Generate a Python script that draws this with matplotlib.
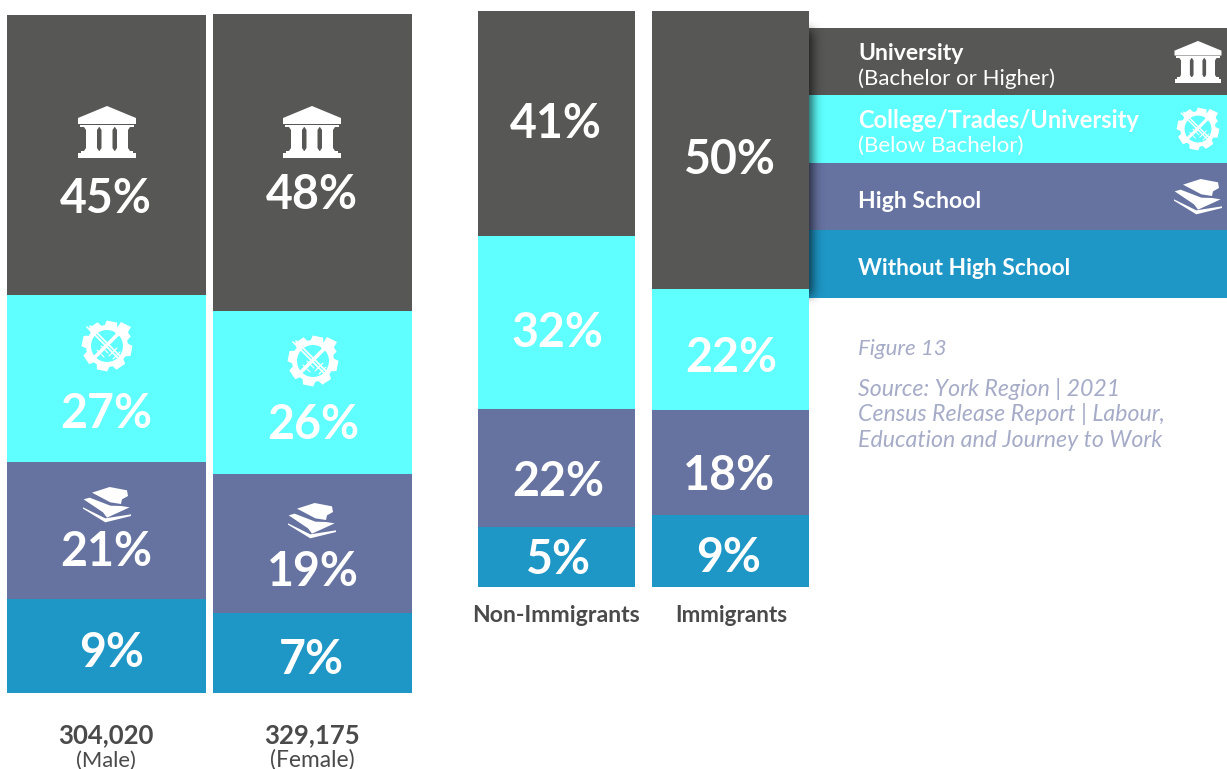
import math
import numpy as np
import matplotlib
matplotlib.use("Agg")
import matplotlib.pyplot as plt
from matplotlib.patches import Polygon, Rectangle, PathPatch
from matplotlib.path import Path

# ---- data ----
levels = ["Without High School", "High School", "College/Trades/University", "University"]
bar_names = ["Male", "Female", "Non-Immigrants", "Immigrants"]
male_labels = ["9%", "21%", "27%", "45%"]
female_labels = ["7%", "19%", "26%", "48%"]
non_immigrant_labels = ["5%", "22%", "32%", "41%"]
immigrant_labels = ["9%", "18%", "22%", "50%"]
# segment shares as drawn in the picture (the drawn bands are not strictly proportional to labels)
male_shares = [13.9, 20.2, 24.6, 41.3]
female_shares = [11.8, 20.5, 24.0, 43.7]
non_immigrant_shares = [10.4, 20.5, 30.0, 39.1]
immigrant_shares = [12.5, 18.2, 21.0, 48.3]
male_total = "304,020"
female_total = "329,175"

# ---- style ----
W, H = 1227, 769
DARK, CYAN, SLATE, BLUE = "#575756", "#5FFFFF", "#6673A1", "#1E97C6"
colors = [BLUE, SLATE, CYAN, DARK]
GREY = "#4A4A4A"
NOTE = "#A6ACC8"
FONT = "Lato"

fig = plt.figure(figsize=(W / 100, H / 100), dpi=100, facecolor="white")


def px_axes(x0, y0, x1, y1, z=1):
    return fig.add_axes([x0 / W, 1 - y1 / H, (x1 - x0) / W, (y1 - y0) / H], zorder=z)


def stacked(shares, box):
    ax = px_axes(*box)
    bottom = 0
    for v, c in zip(shares, colors):
        ax.bar(0, v, 1, bottom=bottom, color=c, linewidth=0)
        bottom += v
    ax.set_xlim(-0.5, 0.5)
    ax.set_ylim(0, 100)
    ax.axis("off")


stacked(male_shares, (7, 15, 206, 693))
stacked(female_shares, (213, 14, 412, 693))
stacked(non_immigrant_shares, (478, 11, 635, 587))
stacked(immigrant_shares, (652, 11, 809, 587))

# overlay in pixel coordinates for legend, text and icons
cv = fig.add_axes([0, 0, 1, 1], zorder=5)
cv.set_xlim(0, W)
cv.set_ylim(H, 0)
cv.axis("off")
cv.patch.set_alpha(0)

# legend bands
for (y0, y1), c in zip([(230, 298), (163, 230), (95, 163), (28, 95)], colors):
    cv.add_patch(Rectangle((809, y0), W - 809, y1 - y0, color=c, linewidth=0, zorder=1))

# soft shadow cast by the legend's left edge
xs = np.arange(809, 842) + 0.5
ys = np.arange(10, 318) + 0.5
erf = np.vectorize(math.erf)
ax_x = 0.5 * (1 - erf((xs - 812) / 8.0))
ax_y = 0.5 * (erf((ys - 30) / 7.0) - erf((ys - 296) / 7.0))
alpha = 0.72 * np.outer(ax_y, ax_x)
img = np.zeros((len(ys), len(xs), 4))
img[..., 3] = alpha
cv.imshow(img, extent=(809, 842, 318, 10), aspect="auto", zorder=2, interpolation="bilinear")
cv.set_xlim(0, W)
cv.set_ylim(H, 0)


# ---- icons (outlines in local pixels around a centre) ----
def add_poly(pts, cx, cy, s, **kw):
    pts = np.asarray(pts, float) * s + (cx, cy)
    cv.add_patch(Polygon(pts, closed=True, facecolor="white", edgecolor="none", zorder=4, **kw))


def temple(cx, cy, s=1.0):
    add_poly([(-29, -14), (0, -26), (29, -14), (29, -8), (-29, -8)], cx, cy, s)
    add_poly([(-27, -7), (27, -7), (27, -5), (-27, -5)], cx, cy, s)
    for c in (-15.5, 0, 15.5):
        add_poly([(c - 7.5, -5), (c + 7.5, -5), (c + 5.5, -2), (c + 5.5, 16), (c + 7.5, 19), (c - 7.5, 19),
                  (c - 5.5, 16), (c - 5.5, -2)], cx, cy, s)
    add_poly([(-26, 19), (26, 19), (26, 21), (29, 21), (29, 26), (-29, 26), (-29, 21), (-26, 21)], cx, cy, s)


def gear(cx, cy, s=1.0, teeth=8):
    pts = []
    for i in range(teeth):
        a = 2 * math.pi * i / teeth + 0.2
        step = 2 * math.pi / teeth
        for da, r in [(-0.36, 21), (-0.24, 25.5), (0.24, 25.5), (0.36, 21)]:
            aa = a + da * step * 1.1
            pts.append((r * math.cos(aa), r * math.sin(aa)))
    th = np.linspace(0, 2 * math.pi, 48)[::-1]
    hole = [(16 * math.cos(t), 16 * math.sin(t)) for t in th]
    verts = pts + [pts[0]] + hole + [hole[0]]
    codes = [Path.MOVETO] + [Path.LINETO] * (len(pts) - 1) + [Path.CLOSEPOLY] + \
            [Path.MOVETO] + [Path.LINETO] * (len(hole) - 1) + [Path.CLOSEPOLY]
    v = np.array(verts) * s + (cx, cy)
    cv.add_patch(PathPatch(Path(v, codes), facecolor="white", edgecolor="none", zorder=4))
    # crossed wrench and screwdriver
    for (a, b), lw in [(((-20, -19), (13, 14)), 1.2), (((-17, -20), (15, 12)), 1.2),
                       (((12, -13), (-13, 12)), 2.6), (((-10, 4), (-3, 11)), 0.8), (((-6, 0), (1, 7)), 0.8),
                       (((2, 10), (10, 2)), 0.8), (((6, 13), (13, 6)), 0.8)]:
        cv.plot([cx + a[0] * s, cx + b[0] * s], [cy + a[1] * s, cy + b[1] * s], color="white", lw=lw * s, zorder=4,
                solid_capstyle="round")
    add_poly([(10, -18), (14, -24), (24, -19), (20, -12), (14, -9), (8, -13)], cx, cy, s)


def books(cx, cy, s=1.0):
    k = 1 / 3
    top = [(-45, -37), (8, -54), (60, -44), (63, -27), (45, -17), (42, -3), (10, -8), (-22, -25)]
    mid = [(-70, -17), (-52, -22), (10, 2), (42, 3), (68, 7), (0, 38), (-12, 22)]
    add_poly(np.array(top) * k, cx, cy, s)
    add_poly(np.array(mid) * k, cx, cy, s)
    add_poly(np.array([(-72, 7), (-5, 40), (72, 28), (72, 33), (-5, 52), (-72, 11)]) * k, cx, cy, s)


for x, y in [(107, 132), (312, 132)]:
    temple(x, y)
temple(1198, 62, 0.81)
for x, y in [(107, 346), (313, 361)]:
    gear(x, y)
gear(1198, 129, 0.84)
for x, y in [(107, 505), (312, 521)]:
    books(x, y)
books(1198, 197)


# ---- text ----
def txt(x, y, s, size, color="white", weight="regular", ha="center", style="normal"):
    cv.text(x, y, s, fontsize=size, color=color, fontweight=weight, ha=ha, va="baseline",
            family=FONT, style=style, zorder=6)


pct_rows = [
    (male_labels, [112, 106, 106, 106], [667, 566, 428, 213]),
    (female_labels, [311, 313, 313, 312], [674, 586, 439, 209]),
    (non_immigrant_labels, [558, 558, 557, 556], [574, 496, 347, 138]),
    (immigrant_labels, [729, 729, 731, 730], [572, 490, 372, 174]),
]
for labels, xs_, ys_ in pct_rows:
    for lab, x, y in zip(labels, xs_, ys_):
        txt(x, y, lab, 33.5, weight="bold")

txt(106, 743, male_total, 18.5, GREY, "bold")
txt(106, 767, "(Male)", 15.8, GREY)
txt(312, 743, female_total, 18.5, GREY, "bold")
txt(312, 767, "(Female)", 16.4, GREY)
txt(556, 622, bar_names[2], 16.6, GREY, "bold")
txt(731, 622, bar_names[3], 16.2, GREY, "bold")

txt(858, 60, levels[3], 16.6, weight="bold", ha="left")
txt(858, 85, "(Bachelor or Higher)", 16, ha="left")
txt(858, 128, levels[2], 17, weight="bold", ha="left")
txt(858, 152, "(Below Bachelor)", 16, ha="left")
txt(858, 208, levels[1], 16.6, weight="bold", ha="left")
txt(858, 275, levels[0], 16.4, weight="bold", ha="left")

txt(858, 355, "Figure 13", 16, NOTE, ha="left", style="italic")
txt(858, 396, "Source: York Region | 2021", 16.7, NOTE, ha="left", style="italic")
txt(858, 421, "Census Release Report | Labour,", 16.7, NOTE, ha="left", style="italic")
txt(858, 447, "Education and Journey to Work", 16.7, NOTE, ha="left", style="italic")

fig.savefig("out.png", dpi=100, facecolor="white")
